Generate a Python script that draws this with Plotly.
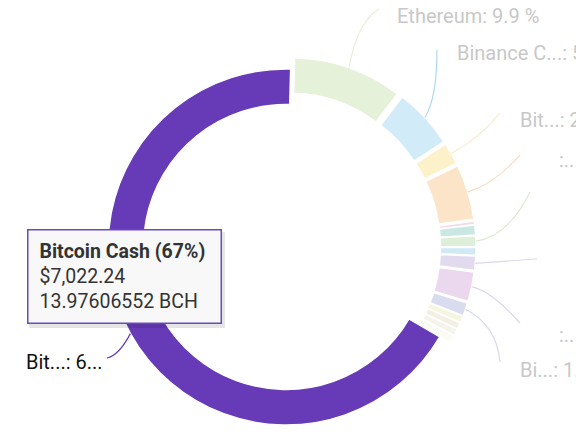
import math
import plotly.graph_objects as go

# the page body keeps its default 8px margin, so the figure is drawn
# 8px in from the window corner; all positions below are window pixels
OFF = 8
W, H = 584 - OFF, 444 - OFF

# slices, clockwise from the top
names = ["Ethereum", "Binance Coin", "Bitcoin SV", "Litecoin", "Dash", "Tether",
         "Cardano", "Ripple", "Stellar", "Monero", "Bitcoin Gold",
         "Zcash", "Dogecoin", "EOS", "Tron", "Bitcoin Cash"]
shares = [9.9, 5.5, 2.0, 5.0, 0.3, 0.9, 1.0, 0.7, 1.3, 2.7, 1.2,
          0.6, 0.6, 0.6, 0.7, 67.0]
colors = ["#e6f1da", "#d2ebf9", "#fdf1ca", "#fce4c8", "#f3dbe2", "#cae7e2",
          "#ddefd8", "#d0e9f5", "#e2dbf0", "#ebd8ef", "#d8dcee",
          "#f6f5dd", "#f3efe2", "#f4f4ea", "#fbfbf4", "#673ab7"]

# outside labels: slice index, text
label_idx = [0, 1, 2, 3, 6, 8, 9, 10, 15]
label_text = ["Ethereum: 9.9 %", "Binance C...: 5.5 %", "Bit...: 2.0 %", ":...", "",
              "", ":...", "Bi...: 1.2 %", "Bit...: 6..."]

# layout of the outside labels (window pixels): line end, text anchor, curve bend
line_end = [(379, 9), (437, 50), (500, 113), (520, 155), (530, 192),
            (537, 259), (520, 323), (500, 362), (107, 358)]
text_pos = [(395, 16), (455, 53), (518, 120), (557, 160), (545, 192),
            (552, 259), (557, 335), (518, 370), (105, 362)]
bend = [(0.3, 0.8), (1.0, 0.3), (0.6, 0.4), (0.5, 0.2), (0.6, 0.1),
        (0.5, 0.5), (0.4, 0.1), (0.9, 0.3), (0.5, 0.9)]
line_colors = ["#e8eed8", "#acd9f0", "#f5ebc2", "#f6dfc4", "#dde9d2",
               "#dcd9ea", "#e0d6e7", "#d6d9e9", "#673ab7"]

highlight = len(shares) - 1
pull = [0.067] * len(shares)
pull[highlight] = 0
rotation = 1.5

# pie box in window pixels
box = (96, 57, 476, 437)


def px(x, y):
    return (x - OFF) / W, 1 - (y - OFF) / H


dom_x = [px(box[0], 0)[0], px(box[2], 0)[0]]
dom_y = [px(0, box[3])[1], px(0, box[1])[1]]
cx, cy = (box[0] + box[2]) / 2, (box[1] + box[3]) / 2
R = (box[2] - box[0]) / (2 + 2 * max(pull))

fig = go.Figure(go.Pie(
    labels=names, values=shares, sort=False, direction="clockwise",
    rotation=rotation, hole=0.8, pull=pull, domain=dict(x=dom_x, y=dom_y),
    marker=dict(colors=colors, line=dict(color="white", width=1.5)),
    textinfo="none", hoverinfo="skip", showlegend=False,
))

total = sum(shares)
cum = [sum(shares[:i]) for i in range(len(shares))]
shapes, annotations = [], []
for k, i in enumerate(label_idx):
    mid = math.radians(rotation + 360 * (cum[i] + shares[i] / 2) / total)
    r = R * (1 + pull[i])
    sx, sy = cx + r * math.sin(mid), cy - r * math.cos(mid)
    ex, ey = line_end[k]
    qx, qy = sx + bend[k][0] * (ex - sx), sy + bend[k][1] * (ey - sy)
    a, b, c = px(sx, sy), px(qx, qy), px(ex, ey)
    shapes.append(dict(type="path", xref="paper", yref="paper",
                       path=f"M {a[0]},{a[1]} Q {b[0]},{b[1]} {c[0]},{c[1]}",
                       line=dict(color=line_colors[k], width=1.2)))
    if label_text[k]:
        tx, ty = px(*text_pos[k])
        dark = i == highlight
        annotations.append(dict(
            x=tx, y=ty, xref="paper", yref="paper", text=label_text[k],
            showarrow=False, xanchor="right" if dark else "left", yanchor="middle",
            font=dict(size=20, color="#111111" if dark else "#c8c8c8")))

# tooltip for the highlighted slice
tip = "<b>Bitcoin Cash (67%)</b><br>$7,022.24<br>13.97606552 BCH"
s0, s1 = px(29, 328), px(225, 232)
shapes.append(dict(type="rect", xref="paper", yref="paper",
                   x0=s0[0], x1=s1[0], y0=s0[1], y1=s1[1],
                   fillcolor="rgba(0,0,0,0.10)", line=dict(width=0), layer="above"))
tx, ty = px(27, 229)
annotations.append(dict(
    x=tx, y=ty, xref="paper", yref="paper", text=tip, showarrow=False,
    xanchor="left", yanchor="top", align="left", valign="middle",
    width=170, height=70, borderpad=11, borderwidth=1.5,
    bgcolor="#f8f8f8", bordercolor="#6a4cb9",
    font=dict(size=19.5, color="#333333")))

fig.update_layout(
    width=W, height=H, margin=dict(l=0, r=0, t=0, b=0),
    paper_bgcolor="white", plot_bgcolor="white",
    font=dict(family="Roboto, sans-serif"),
    shapes=shapes, annotations=annotations,
)

fig.write_html("out.html")
